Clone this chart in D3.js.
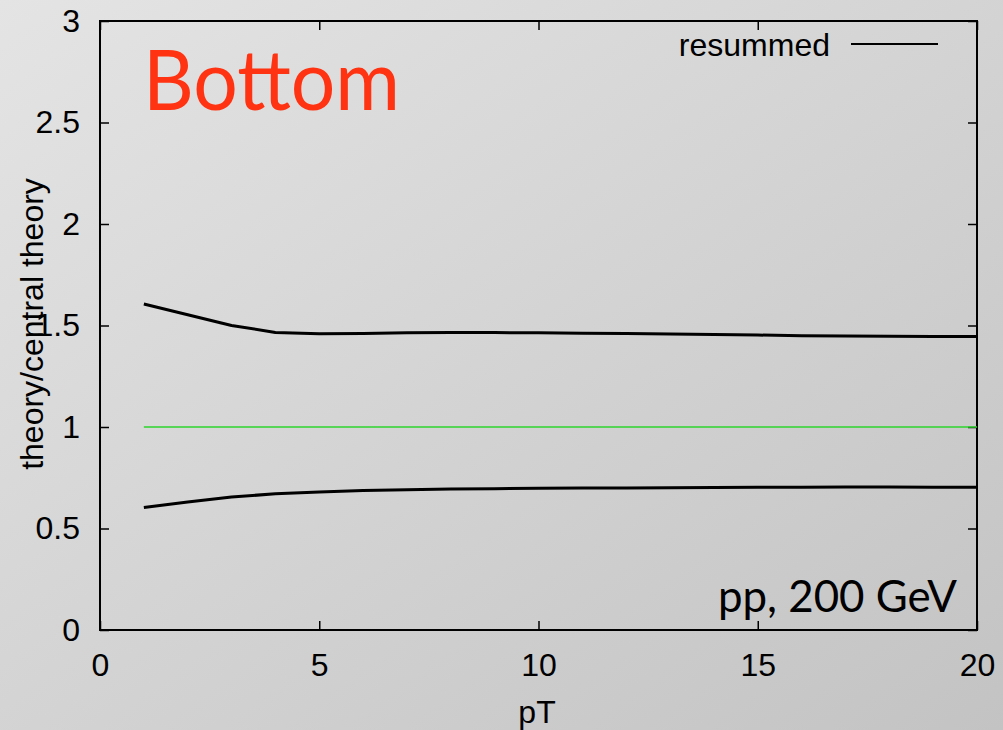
<!DOCTYPE html>
<html>
<head>
<meta charset="utf-8">
<script src="https://cdn.jsdelivr.net/npm/d3@7"></script>
<style>
  html, body { margin: 0; padding: 0; }
  svg { display: block; }
  .gp { font-family: "Liberation Sans", Arial, Helvetica, sans-serif; fill: #000; }
  .slide { font-family: "Lato", "Open Sans", sans-serif; }
</style>
</head>
<body>
<svg id="chart" width="1003" height="730"></svg>
<script>
// transverse momentum grid (GeV)
const pT = [1, 2, 3, 4, 5, 6, 7, 8, 9, 10, 11, 12, 13, 14, 15, 16, 17, 18, 19, 20];
// upper edge of the scale-variation band, relative to the central prediction
const upperBand = [1.606, 1.553, 1.500, 1.466, 1.459, 1.461, 1.464, 1.465, 1.465, 1.464,
                   1.462, 1.460, 1.458, 1.456, 1.453, 1.450, 1.448, 1.447, 1.446, 1.446];
// lower edge of the band
const lowerBand = [0.604, 0.630, 0.655, 0.671, 0.680, 0.687, 0.691, 0.694, 0.696, 0.698,
                   0.699, 0.700, 0.701, 0.702, 0.703, 0.703, 0.704, 0.704, 0.703, 0.703];
// central theory divided by itself
const central = pT.map(() => 1);

const xTicks = [0, 5, 10, 15, 20];
const yTicks = [0, 0.5, 1, 1.5, 2, 2.5, 3];
const yTickLabels = ["0", "0.5", "1", "1.5", "2", "2.5", "3"];

const W = 1003, H = 730;
const frame = { left: 100, right: 977, top: 21, bottom: 630 };

const svg = d3.select("#chart");

// soft diagonal grey backdrop
const defs = svg.append("defs");
const grad = defs.append("linearGradient")
  .attr("id", "bg").attr("x1", 0).attr("y1", 0).attr("x2", 1).attr("y2", 1);
grad.append("stop").attr("offset", 0).attr("stop-color", "#e4e4e4");
grad.append("stop").attr("offset", 1).attr("stop-color", "#c3c3c3");
svg.append("rect").attr("width", W).attr("height", H).attr("fill", "url(#bg)");

const x = d3.scaleLinear().domain([0, 20]).range([frame.left, frame.right]);
const y = d3.scaleLinear().domain([0, 3]).range([frame.bottom, frame.top]);

const tickLen = 9;
const fontPx = 32;

// bottom axis labels with inward ticks
const bottomAxis = d3.axisBottom(x).tickValues(xTicks).tickSize(-tickLen).tickPadding(tickLen + 14)
  .tickFormat(d3.format("d"));
const gB = svg.append("g").attr("transform", `translate(0,${frame.bottom})`).call(bottomAxis);
// top mirror ticks
const gT = svg.append("g").attr("transform", `translate(0,${frame.top})`)
  .call(d3.axisTop(x).tickValues(xTicks).tickSize(-tickLen).tickFormat(""));
// left axis labels with inward ticks
const leftAxis = d3.axisLeft(y).tickValues(yTicks).tickSize(-tickLen).tickPadding(tickLen + 11)
  .tickFormat((d, i) => yTickLabels[i]);
const gL = svg.append("g").attr("transform", `translate(${frame.left},0)`).call(leftAxis);
// right mirror ticks
const gR = svg.append("g").attr("transform", `translate(${frame.right},0)`)
  .call(d3.axisRight(y).tickValues(yTicks).tickSize(-tickLen).tickFormat(""));

[gB, gT, gL, gR].forEach(g => {
  g.select(".domain").remove();
  g.selectAll(".tick line").attr("stroke", "#000").attr("stroke-width", 1.5);
  g.selectAll(".tick text").attr("class", "gp").attr("font-size", fontPx).attr("fill", "#000");
});
gB.selectAll(".tick text").attr("dy", "0.71em");

// plot border
svg.append("rect")
  .attr("x", frame.left).attr("y", frame.top)
  .attr("width", frame.right - frame.left).attr("height", frame.bottom - frame.top)
  .attr("fill", "none").attr("stroke", "#000").attr("stroke-width", 2);

const line = d3.line().x((d, i) => x(pT[i])).y(d => y(d));

// reference line at unity
svg.append("path").datum(central).attr("d", line)
  .attr("fill", "none").attr("stroke", "#2bd42b").attr("stroke-width", 1.4);

// band edges
[upperBand, lowerBand].forEach(s => {
  svg.append("path").datum(s).attr("d", line)
    .attr("fill", "none").attr("stroke", "#000").attr("stroke-width", 3)
    .attr("stroke-linejoin", "round");
});

// legend
svg.append("text").attr("class", "gp").attr("font-size", fontPx)
  .attr("x", 830).attr("y", 56).attr("text-anchor", "end").text("resummed");
svg.append("line").attr("x1", 851).attr("x2", 938).attr("y1", 44).attr("y2", 44)
  .attr("stroke", "#000").attr("stroke-width", 2);

// axis titles
svg.append("text").attr("class", "gp").attr("font-size", fontPx)
  .attr("x", 537).attr("y", 723).attr("text-anchor", "middle").text("pT");
svg.append("text").attr("class", "gp").attr("font-size", fontPx)
  .attr("transform", "translate(43,324) rotate(-90)")
  .attr("text-anchor", "middle").text("theory/central theory");

// slide annotations
svg.append("text").attr("class", "slide").attr("font-size", 84).attr("fill", "#ff3311")
  .attr("x", 143).attr("y", 110).attr("textLength", 257).attr("lengthAdjust", "spacingAndGlyphs")
  .text("Bottom");
svg.append("text").attr("class", "slide").attr("font-size", 44).attr("fill", "#000")
  .attr("x", 718).attr("y", 612).attr("textLength", 239).attr("lengthAdjust", "spacingAndGlyphs")
  .text("pp, 200 GeV");
</script>
</body>
</html>
